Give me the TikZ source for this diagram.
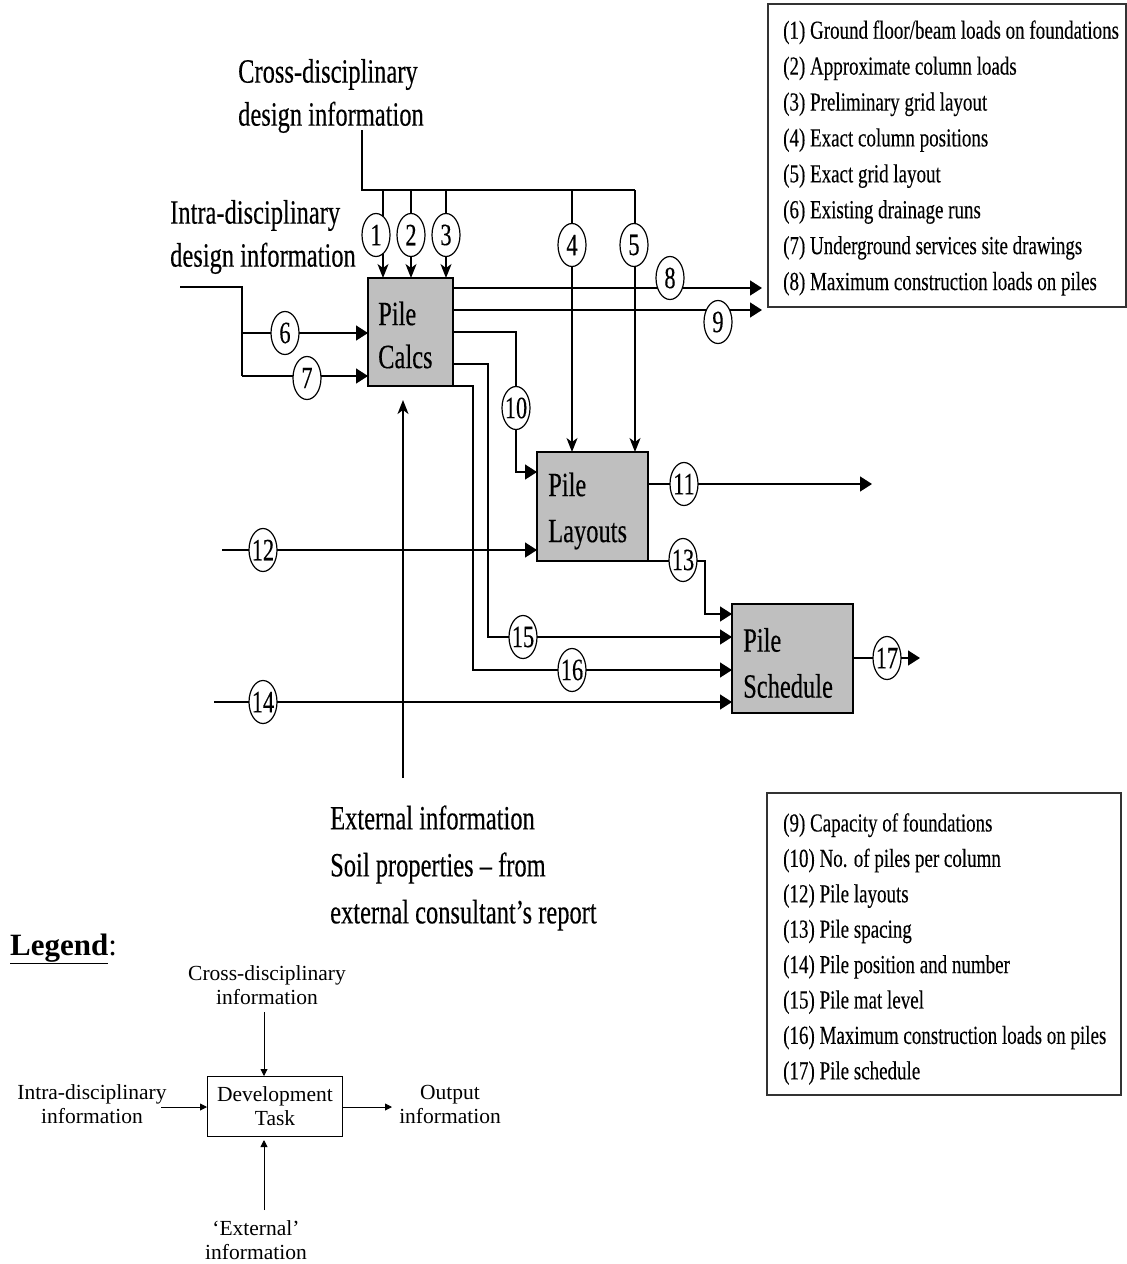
\documentclass[tikz,border=0pt]{standalone}
\usepackage{fontspec}
\setmainfont{Liberation Serif}
\newfontfamily\cond[FakeStretch=0.72,FakeBold=0.3,Ligatures=TeX]{Liberation Serif}
\newfontfamily\condk[FakeStretch=0.73,FakeBold=0.2,Ligatures=TeX]{Liberation Serif}
\usetikzlibrary{shapes.geometric,arrows.meta}
\tikzset{
  conn/.style={line width=1.4pt},
  harr/.style={conn,-{Triangle[length=12pt,width=15pt]}},
  varr/.style={conn,-{Stealth[length=14pt,width=11pt,inset=4pt]}},
  task/.style={draw, line width=1.6pt, fill=black!25},
  tasktext/.style={anchor=west, inner sep=0pt, align=left},
  num/.style={ellipse, draw, fill=white, line width=1.2pt, minimum width=28pt, minimum height=43pt,
              inner xsep=-6pt, inner ysep=-5pt, font=\cond\fontsize{31}{31}\selectfont},
  big/.style={inner sep=0pt, align=left, font=\cond\fontsize{34}{43}\selectfont},
  keybox/.style={draw=black!80, line width=1.3pt},
  keytext/.style={anchor=west, inner sep=0pt, align=left},
  lg/.style={font=\fontsize{21.5}{24}\selectfont, align=center, inner sep=0pt},
  larr/.style={line width=0.9pt,-{Triangle[length=7pt,width=7pt]}}
}
\begin{document}
\begin{tikzpicture}[x=1pt,y=-1pt]
\useasboundingbox (0,0) rectangle (1127,1264);

% ---- task boxes
\node[task, minimum width=85pt, minimum height=108pt, inner sep=0pt] (calcs) at (410.5,332) {};
\node[tasktext, font=\cond\fontsize{34}{43}\selectfont] (calcsT) at (378,335) {Pile\\Calcs};
\node[task, minimum width=111pt, minimum height=109pt, inner sep=0pt] (layouts) at (592.5,506.5) {};
\node[tasktext, font=\cond\fontsize{34}{46}\selectfont] (layoutsT) at (548,511) {Pile\\Layouts};
\node[task, minimum width=121pt, minimum height=109pt, inner sep=0pt] (sched) at (792.5,658.5) {};
\node[tasktext, font=\cond\fontsize{34}{46}\selectfont] (schedT) at (743,663) {Pile\\Schedule};

% ---- headings
\node[big, anchor=west] (crossT) at (238,96) {Cross-disciplinary\\design information};
\node[big, anchor=west] (intraT) at (170,237) {Intra-disciplinary\\design information};
\node[big, anchor=west, font=\cond\fontsize{34}{47}\selectfont] (extT) at (330,868) {External information\\Soil properties – from\\external consultant’s report};

% ---- coordinates
\coordinate (cTop) at (362,130);
\coordinate (cBar) at (362,190);
\coordinate (cEnd) at (635,190);
\coordinate (iStart) at (180,287);
\coordinate (i1) at (242,287);
\coordinate (i2) at (242,376);
\coordinate (i6) at (242,333);
\coordinate (eStart) at (403,778);
\coordinate (s12) at (222,550);
\coordinate (s14) at (214,702);
\coordinate (e8) at (762,288);
\coordinate (e9) at (762,310);
\coordinate (e11) at (872,484);
\coordinate (e17) at (920,658);

% ---- cross-disciplinary bus
\draw[conn] (cTop) -- (cBar) -- (cEnd);
\draw[varr] (383,190) -- (383,278);
\draw[varr] (411,190) -- (411,278);
\draw[varr] (446,190) -- (446,278);
\draw[varr] (572,190) -- (572,452);
\draw[varr] (635,190) -- (635,452);
\node[num] (n1) at (376,235) {1};
\node[num] (n2) at (411,235) {2};
\node[num] (n3) at (446,235) {3};
\node[num] (n4) at (572,245) {4};
\node[num] (n5) at (634,245) {5};

% ---- intra-disciplinary
\draw[conn] (iStart) -- (i1) -- (i2);
\draw[harr] (i2) -- (368,376);
\draw[harr] (i6) -- (368,333);
\node[num] (n6) at (285,333) {6};
\node[num] (n7) at (307,378) {7};

% ---- outputs of Pile Calcs
\draw[harr] (453,288) -- (e8);
\draw[harr] (453,310) -- (e9);
\node[num] (n8) at (670,278) {8};
\node[num] (n9) at (718,322) {9};
\draw[harr] (453,332) -- (516,332) -- (516,472) -- (537,472);
\node[num] (n10) at (516,408) {10};
\draw[harr] (453,364) -- (488,364) -- (488,637) -- (732,637);
\node[num] (n15) at (523,637) {15};
\draw[harr] (453,386) -- (473,386) -- (473,670) -- (732,670);
\node[num] (n16) at (572,670) {16};

% ---- external
\draw[varr] (eStart) -- (403,400);

% ---- Pile layouts
\draw[harr] (648,484) -- (e11);
\node[num] (n11) at (684,484) {11};
\draw[harr] (648,561) -- (705,561) -- (705,614) -- (732,614);
\node[num] (n13) at (683,560) {13};
\draw[harr] (s12) -- (537,550);
\node[num] (n12) at (263,550) {12};
\draw[harr] (s14) -- (732,702);
\node[num] (n14) at (263,702) {14};
\draw[harr] (853,658) -- (e17);
\node[num] (n17) at (887,658) {17};

% ---- key boxes
\draw[keybox] (768,4) rectangle (1126,307);
\node[keytext, font=\condk\fontsize{26}{35.9}\selectfont] (key1) at (783,158) {(1) Ground floor/beam loads on foundations\\(2) Approximate column loads\\(3) Preliminary grid layout\\(4) Exact column positions\\(5) Exact grid layout\\(6) Existing drainage runs\\(7) Underground services site drawings\\(8) Maximum construction loads on piles};
\draw[keybox] (767,793) rectangle (1121,1095);
\node[keytext, font=\condk\fontsize{26}{35.4}\selectfont] (key2) at (783,949) {(9) Capacity of foundations\\(10) No. of piles per column\\(12) Pile layouts\\(13) Pile spacing\\(14) Pile position and number\\(15) Pile mat level\\(16) Maximum construction loads on piles\\(17) Pile schedule};

% ---- legend
\node[anchor=base west, inner sep=0pt, font=\fontsize{31}{31}\selectfont] (legT) at (10,955) {\textbf{\underline{Legend}}:};
\node[draw, line width=0.9pt, minimum width=135pt, minimum height=60pt, inner sep=0pt] (dev) at (274.5,1106) {};
\node[lg] (devT) at (275,1106) {Development\\Task};
\node[lg] (lcross) at (267,985) {Cross-disciplinary\\information};
\node[lg] (lintra) at (92,1104) {Intra-disciplinary\\information};
\node[lg] (lout) at (450,1104) {Output\\information};
\node[lg] (lext) at (256,1240) {‘External’\\information};
\coordinate (lc) at (264,1012);
\coordinate (li) at (161,1107);
\coordinate (lo) at (392,1107);
\coordinate (le) at (264,1210);
\draw[larr] (lc) -- (264,1076);
\draw[larr] (li) -- (207,1107);
\draw[larr] (342,1107) -- (lo);
\draw[larr] (le) -- (264,1140);
\end{tikzpicture}
\end{document}
